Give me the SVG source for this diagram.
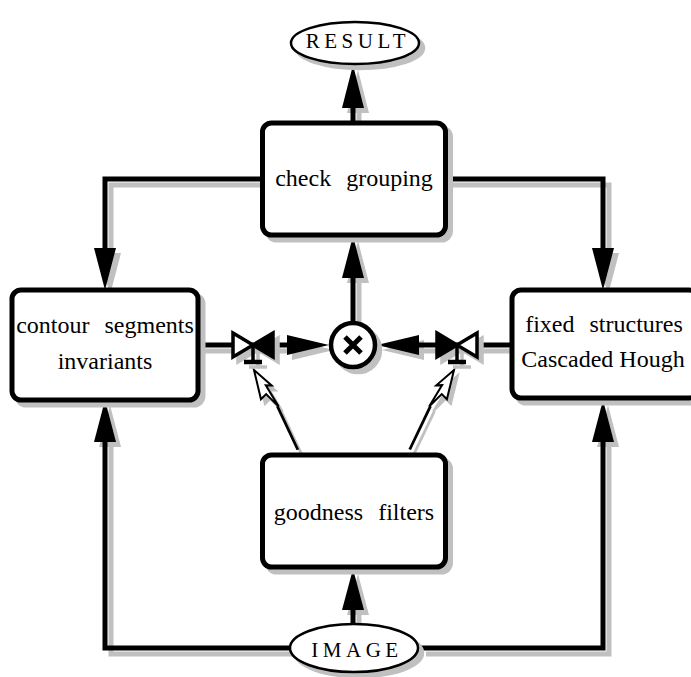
<svg xmlns="http://www.w3.org/2000/svg" width="691" height="677" viewBox="0 0 691 677">
<style>
.wire{fill:none;stroke-width:5}
.shadow{stroke:#c0c0c0;fill:#c0c0c0}
.box{fill:#fff;stroke:#000;stroke-width:5}
.boxsh{fill:#c0c0c0;stroke:#c0c0c0;stroke-width:5}
.ell{fill:#fff;stroke:#000;stroke-width:2.5}
.ellsh{fill:#c0c0c0;stroke:#c0c0c0;stroke-width:2.5}
.t{font-family:"Liberation Serif","Times New Roman",serif;font-size:24px;fill:#000;text-anchor:middle}
.ws{word-spacing:9px}
.lab{font-family:"Liberation Serif","Times New Roman",serif;font-size:21px;letter-spacing:4.5px;fill:#000;text-anchor:middle}
.vh{fill:#fff;stroke:#000;stroke-width:3.5;stroke-linejoin:miter}
.vf{fill:#000;stroke:#000;stroke-width:3.5}
.vs{fill:none;stroke:#000;stroke-width:3.5}
.vb{fill:none;stroke:#000;stroke-width:4.5}
.lt{fill:#fff;stroke:#000;stroke-width:2;stroke-linejoin:miter}
.ltl{fill:none;stroke:#000;stroke-width:2.8}
</style>
<defs>
<g id="wires">
<path class="wire" d="M262,179 H105 V252"/>
<path class="wire" d="M446,179 H603 V252"/>
<path class="wire" d="M290,648 H105 V438"/>
<path class="wire" d="M420,648 H603 V438"/>
<path class="wire" d="M198,345 H290"/>
<path class="wire" d="M512,345 H416"/>
<path class="wire" d="M353,322 V275"/>
<path class="wire" d="M353,123 V104"/>
<path class="wire" d="M353,624 V606"/>
</g>
<g id="heads" stroke="none">
<polygon points="105,290 94,248 116,248"/>
<polygon points="603,290 592,248 614,248"/>
<polygon points="105,400 94,442 116,442"/>
<polygon points="603,400 592,442 614,442"/>
<polygon points="329,345 287,335 287,355"/>
<polygon points="377,345 419,335 419,355"/>
<polygon points="353,236 342,278 364,278"/>
<polygon points="353,65 342,108 364,108"/>
<polygon points="353,569 342,610 364,610"/>
</g>
<g id="valveshape">
<path d="M-20,-12 L0,0 L-20,12 Z M20,-12 L0,0 L20,12 Z M0,0 V16 M-9,17 H9" stroke-width="3.5"/>
</g>
<g id="bolt">
<path d="M0,0 L8,22 L3,19 L4,44 L-1,27 L-8,29 Z" class="lt"/>
<path d="M3,43 L0,91" class="ltl"/>
</g>
<g id="boltsh">
<path d="M0,0 L8,22 L3,19 L4,44 L-1,27 L-8,29 Z" fill="#c0c0c0" stroke="#c0c0c0" stroke-width="2"/>
<path d="M3,43 L0,91" fill="none" stroke="#c0c0c0" stroke-width="2.8"/>
</g>
</defs>

<g id="connectors">
<use href="#wires" class="shadow" transform="translate(6,6)" fill="none"/>
<use href="#heads" fill="#c0c0c0" transform="translate(5,5)"/>
<use href="#wires" stroke="#000" fill="none"/>
<use href="#heads" fill="#000"/>
<g id="bolt-left">
<use href="#boltsh" transform="translate(258,375) rotate(-28.8)"/>
<use href="#bolt" transform="translate(254,370) rotate(-28.8)"/>
</g>
<g id="bolt-right">
<use href="#boltsh" transform="translate(458,375) rotate(29.1) scale(-1,1)"/>
<use href="#bolt" transform="translate(454,370) rotate(29.1) scale(-1,1)"/>
</g>
</g>

<g id="valve-left">
<g transform="translate(258,350)" fill="#c0c0c0" stroke="#c0c0c0"><use href="#valveshape"/></g>
<path class="vh" d="M233,333 L253,345 L233,357 Z"/>
<path class="vf" d="M273,333 L253,345 L273,357 Z"/>
<path class="vs" d="M253,345 V361"/>
<path class="vb" d="M244,362 H262"/>
</g>
<g id="valve-right">
<g transform="translate(462,350)" fill="#c0c0c0" stroke="#c0c0c0"><use href="#valveshape"/></g>
<path class="vf" d="M437,333 L457,345 L437,357 Z"/>
<path class="vh" d="M477,333 L457,345 L477,357 Z"/>
<path class="vs" d="M457,345 V361"/>
<path class="vb" d="M448,362 H466"/>
</g>

<g id="combine">
<circle cx="358" cy="350" r="22" fill="#c0c0c0" stroke="#c0c0c0" stroke-width="4.5"/>
<circle cx="353" cy="345" r="22" fill="#fff" stroke="#000" stroke-width="4.5"/>
<path d="M345,337 L361,353 M361,337 L345,353" stroke="#000" stroke-width="5" fill="none"/>
</g>

<g id="result">
<ellipse class="ellsh" cx="360" cy="48" rx="64" ry="21"/>
<ellipse class="ell" cx="355" cy="43" rx="64" ry="21"/>
<text class="lab" x="358" y="48">RESULT</text>
</g>

<g id="check-grouping">
<rect class="boxsh" x="267.5" y="128" width="183" height="112" rx="9"/>
<rect class="box" x="262.5" y="123" width="183" height="112" rx="9"/>
<text class="t ws" x="354" y="186">check grouping</text>
</g>

<g id="contour-segments">
<rect class="boxsh" x="17" y="295" width="186" height="110" rx="9"/>
<rect class="box" x="12" y="290" width="186" height="110" rx="9"/>
<text class="t ws" x="105" y="333">contour segments</text>
<text class="t" x="105" y="369">invariants</text>
</g>

<g id="fixed-structures">
<rect class="boxsh" x="517" y="295" width="186" height="108" rx="9"/>
<rect class="box" x="512" y="290" width="186" height="108" rx="9"/>
<text class="t ws" x="604" y="332">fixed structures</text>
<text class="t" x="603" y="367">Cascaded Hough</text>
</g>

<g id="goodness-filters">
<rect class="boxsh" x="267.5" y="460" width="183" height="112" rx="9"/>
<rect class="box" x="262.5" y="455" width="183" height="112" rx="9"/>
<text class="t ws" x="354" y="520">goodness filters</text>
</g>

<g id="image">
<ellipse class="ellsh" cx="359" cy="653" rx="64" ry="24"/>
<ellipse class="ell" cx="354" cy="648" rx="64" ry="24"/>
<text class="lab" x="357" y="657">IMAGE</text>
</g>
</svg>
